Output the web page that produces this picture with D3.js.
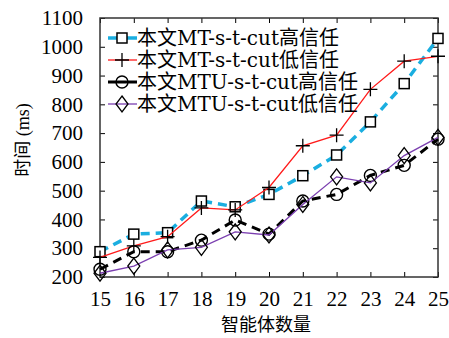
<!DOCTYPE html>
<html>
<head>
<meta charset="utf-8">
<script src="https://cdn.jsdelivr.net/npm/d3@7"></script>
<style>
body { margin: 0; background: #fff; }
svg text { font-family: "Liberation Serif", "Noto Sans CJK SC", serif; fill: #000; }
svg .legend text { font-family: "DejaVu Serif", "Noto Sans CJK SC", serif; }
</style>
</head>
<body>
<svg id="chart" width="449" height="338"></svg>
<script>
const agents = [15, 16, 17, 18, 19, 20, 21, 22, 23, 24, 25];
const mtHigh = [288, 349, 354, 464, 444, 487, 552, 624, 739, 872, 1029];
const mtLow = [268, 308, 340, 440, 433, 511, 656, 693, 852, 950, 967];
const mtuHigh = [227, 288, 288, 328, 398, 349, 464, 487, 553, 588, 679];
const mtuLow = [213, 238, 294, 303, 357, 346, 452, 548, 527, 622, 685];
const yTicks = [200, 300, 400, 500, 600, 700, 800, 900, 1000, 1100];
const seriesNames = ['本文MT-s-t-cut高信任', '本文MT-s-t-cut低信任', '本文MTU-s-t-cut高信任', '本文MTU-s-t-cut低信任'];

const margin = {left: 100, right: 11, top: 18, bottom: 61};
const width = 449, height = 338;

const svg = d3.select('#chart');

const x = d3.scaleLinear()
    .domain([15, 25])
    .range([margin.left, width - margin.right]);
const y = d3.scaleLinear()
    .domain([200, 1100])
    .range([height - margin.bottom, margin.top]);

const series = [
    {name: seriesNames[0], values: mtHigh, color: '#1aaee0', width: 3.5, dash: '9,6', marker: 'square'},
    {name: seriesNames[1], values: mtLow, color: '#ff1a1a', width: 1.3, dash: null, marker: 'plus'},
    {name: seriesNames[2], values: mtuHigh, color: '#000', width: 3, dash: '9,6', marker: 'circle'},
    {name: seriesNames[3], values: mtuLow, color: '#7b3fb0', width: 1.3, dash: null, marker: 'diamond'}
];

const plotW = width - margin.right - margin.left;
const plotH = height - margin.bottom - margin.top;
const tickLen = 5;

// axes, ticks pointing inward on all four sides
svg.append('g')
    .attr('transform', `translate(0, ${height - margin.bottom})`)
    .call(d3.axisBottom(x).tickValues(agents).tickSize(-tickLen).tickPadding(14).tickFormat(d3.format('d')))
    .call(g => g.select('.domain').remove())
    .call(g => g.selectAll('text').attr('font-size', 21));

svg.append('g')
    .attr('transform', `translate(0, ${margin.top})`)
    .call(d3.axisTop(x).tickValues(agents).tickSize(-tickLen).tickFormat(''))
    .call(g => g.select('.domain').remove());

svg.append('g')
    .attr('transform', `translate(${margin.left}, 0)`)
    .call(d3.axisLeft(y).tickValues(yTicks).tickSize(-tickLen).tickPadding(17).tickFormat(d3.format('d')))
    .call(g => g.select('.domain').remove())
    .call(g => g.selectAll('text').attr('font-size', 21));

svg.append('g')
    .attr('transform', `translate(${width - margin.right}, 0)`)
    .call(d3.axisRight(y).tickValues(yTicks).tickSize(-tickLen).tickFormat(''))
    .call(g => g.select('.domain').remove());

svg.selectAll('.tick line').attr('stroke', '#000').attr('stroke-width', 1);

svg.append('rect')
    .attr('x', margin.left).attr('y', margin.top)
    .attr('width', plotW).attr('height', plotH)
    .attr('fill', 'none').attr('stroke', '#333').attr('stroke-width', 1.5);

function drawMarker(g, type, cx, cy) {
    if (type === 'square') {
        g.append('rect').attr('x', cx - 5).attr('y', cy - 5).attr('width', 10).attr('height', 10)
            .attr('fill', '#fff').attr('stroke', '#000').attr('stroke-width', 1.5);
    } else if (type === 'plus') {
        g.append('path').attr('d', `M${cx - 7},${cy}H${cx + 7}M${cx},${cy - 7}V${cy + 7}`)
            .attr('stroke', '#000').attr('stroke-width', 1.3);
    } else if (type === 'circle') {
        g.append('circle').attr('cx', cx).attr('cy', cy).attr('r', 6)
            .attr('fill', 'none').attr('stroke', '#000').attr('stroke-width', 1.4);
    } else {
        g.append('path').attr('d', `M${cx},${cy - 8}L${cx + 6},${cy}L${cx},${cy + 8}L${cx - 6},${cy}Z`)
            .attr('fill', 'none').attr('stroke', '#000').attr('stroke-width', 1.3);
    }
}

const line = d3.line().x((d, i) => x(agents[i])).y(d => y(d));

series.forEach(s => {
    svg.append('path')
        .datum(s.values)
        .attr('d', line)
        .attr('fill', 'none')
        .attr('stroke', s.color)
        .attr('stroke-width', s.width)
        .attr('stroke-dasharray', s.dash);
    const mg = svg.append('g');
    s.values.forEach((v, i) => drawMarker(mg, s.marker, x(agents[i]), y(v)));
});

// legend
const legend = svg.append('g').attr('class', 'legend');
series.forEach((s, i) => {
    const ly = 38 + i * 22;
    legend.append('line')
        .attr('x1', 108).attr('x2', 137).attr('y1', ly).attr('y2', ly)
        .attr('stroke', s.color).attr('stroke-width', s.width);
    drawMarker(legend, s.marker, 122, ly);
    legend.append('text')
        .attr('x', 137).attr('y', ly + 7)
        .attr('font-size', 20)
        .text(s.name);
});

// axis titles
svg.append('text')
    .attr('x', 266)
    .attr('y', 331)
    .attr('text-anchor', 'middle')
    .attr('font-size', 18)
    .text('智能体数量');

svg.append('text')
    .attr('transform', 'translate(29, 140) rotate(-90)')
    .attr('text-anchor', 'middle')
    .attr('font-size', 18)
    .text('时间 (ms)');
</script>
</body>
</html>
